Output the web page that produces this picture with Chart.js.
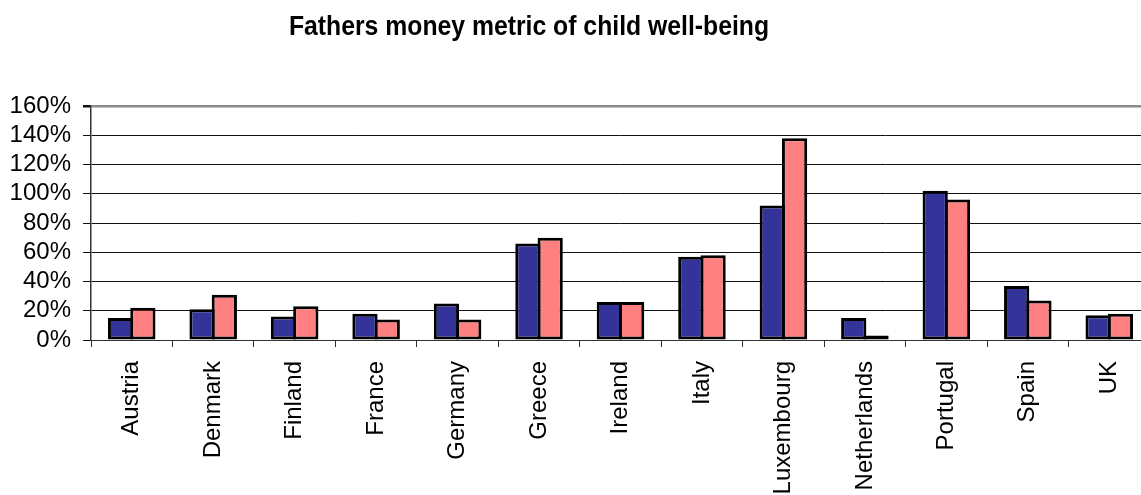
<!DOCTYPE html>
<html>
<head>
<meta charset="utf-8">
<script src="https://cdn.jsdelivr.net/npm/chart.js@4"></script>
<style>
  html, body { margin: 0; padding: 0; background: #fff; overflow: hidden; }
  #wrap { position: relative; width: 1160px; height: 495px; }
</style>
</head>
<body>
<div id="wrap"><canvas id="c" width="1160" height="495"></canvas></div>
<script>
const TITLE = 'Fathers money metric of child well-being';
const categories = ['Austria', 'Denmark', 'Finland', 'France', 'Germany', 'Greece', 'Ireland', 'Italy', 'Luxembourg', 'Netherlands', 'Portugal', 'Spain', 'UK'];
const seriesA = [15, 21, 16, 18, 25, 66, 26, 57, 92, 15, 102, 37, 17];
const seriesB = [22, 31, 23, 14, 14, 70, 26, 58, 138, 3, 96, 27, 18];
const yTicks = [0, 20, 40, 60, 80, 100, 120, 140, 160];

const FONT = '"Liberation Sans", Arial, sans-serif';

const titlePlugin = {
  id: 'customTitle',
  afterDraw(chart) {
    const ctx = chart.ctx;
    ctx.save();
    ctx.font = 'bold 27px ' + FONT;
    ctx.fillStyle = '#000';
    ctx.textAlign = 'center';
    ctx.textBaseline = 'alphabetic';
    ctx.translate(529, 35);
    ctx.scale(0.917, 1);
    ctx.fillText(TITLE, 0, 0);
    ctx.restore();
  }
};

new Chart(document.getElementById('c'), {
  type: 'bar',
  data: {
    labels: categories,
    datasets: [
      { label: 'A', data: seriesA, backgroundColor: '#333399', borderColor: '#000', borderWidth: 3, borderSkipped: false },
      { label: 'B', data: seriesB, backgroundColor: '#FF8080', borderColor: '#000', borderWidth: 3, borderSkipped: false }
    ]
  },
  options: {
    responsive: false,
    animation: false,
    devicePixelRatio: 1,
    layout: { padding: { top: 106, right: 10, left: 0, bottom: 0 } },
    datasets: { bar: { categoryPercentage: 0.547, barPercentage: 1.134 } },
    plugins: {
      legend: { display: false },
      title: { display: false },
      tooltip: { enabled: false }
    },
    scales: {
      x: {
        type: 'category',
        grid: { display: true, drawOnChartArea: false, drawTicks: true, tickLength: 7, color: '#333', offset: true },
        border: { display: true, color: '#333', width: 1 },
        ticks: { minRotation: 90, maxRotation: 90, autoSkip: false, padding: 14, color: '#000', font: { family: FONT, size: 24 } },
        afterFit(scale) { scale.height = 155; }
      },
      y: {
        min: 0,
        max: 160,
        afterBuildTicks(scale) { scale.ticks = yTicks.map(v => ({ value: v })); },
        grid: {
          color: ctx => (ctx.tick && ctx.tick.value === 160) ? '#8a8a8a' : '#111',
          lineWidth: ctx => (ctx.tick && ctx.tick.value === 160) ? 2.5 : 1,
          tickColor: '#111',
          tickLength: 8,
          drawTicks: true
        },
        border: { display: true, color: '#333', width: 1.5 },
        ticks: { autoSkip: false, padding: 12, color: '#000', font: { family: FONT, size: 24 }, callback: v => v + '%' },
        afterFit(scale) { scale.width = 91; }
      }
    }
  },
  plugins: [titlePlugin]
});
</script>
</body>
</html>
